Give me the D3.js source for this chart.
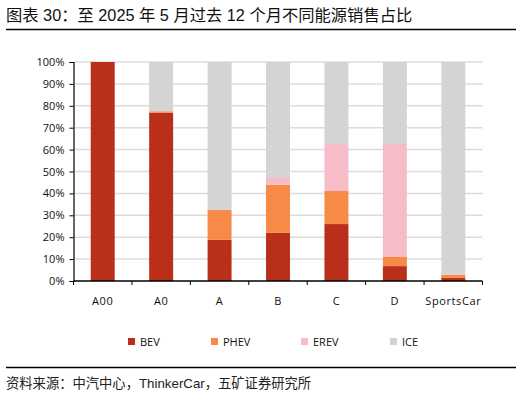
<!DOCTYPE html>
<html>
<head>
<meta charset="utf-8">
<script src="https://cdn.jsdelivr.net/npm/d3@7"></script>
<style>
  body { margin: 0; background: #fff; }
  svg { display: block; }
</style>
</head>
<body>
<div id="chart"></div>
<script>
// categories and shares (%)
var categories = ["A00", "A0", "A", "B", "C", "D", "SportsCar"];
var series = ["BEV", "PHEV", "EREV", "ICE"];
var bev  = [100, 76.8, 18.8, 22.0, 26.0, 6.8, 1.4];
var phev = [0, 0.7, 13.6, 21.9, 15.1, 4.2, 1.4];
var erev = [0, 0, 0, 3.5, 21.5, 51.6, 0];
var ice  = [0, 22.5, 67.6, 52.6, 37.4, 37.4, 97.2];
var yTicks = [0, 10, 20, 30, 40, 50, 60, 70, 80, 90, 100];
var colors = ["#b92f1a", "#f88a48", "#f6bdc8", "#d4d4d4"];

var W = 522, H = 396;
var margin = {top: 62, left: 73.5, right: 39.5, bottom: 115};
var plotW = W - margin.left - margin.right,
    plotH = H - margin.top - margin.bottom;

var svg = d3.select("#chart").append("svg")
    .attr("width", W)
    .attr("height", H);

var font = "'Open Sans', 'Liberation Sans', sans-serif";
var cjk = "'Liberation Sans', 'Noto Sans CJK SC', sans-serif";

// title + rules
svg.append("text")
    .attr("x", 6).attr("y", 21)
    .attr("font-family", cjk)
    .attr("font-size", 16.3)
    .attr("fill", "#111")
    .text("图表 30：至 2025 年 5 月过去 12 个月不同能源销售占比");

svg.append("line")
    .attr("x1", 6).attr("x2", 516)
    .attr("y1", 29.5).attr("y2", 29.5)
    .attr("stroke", "#000").attr("stroke-width", 1.5);

svg.append("line")
    .attr("x1", 6).attr("x2", 516)
    .attr("y1", 367.5).attr("y2", 367.5)
    .attr("stroke", "#000").attr("stroke-width", 1.5);

svg.append("text")
    .attr("x", 6).attr("y", 388)
    .attr("font-family", cjk)
    .attr("font-size", 13.3)
    .attr("fill", "#222")
    .text("资料来源：中汽中心，ThinkerCar，五矿证券研究所");

var g = svg.append("g")
    .attr("transform", "translate(" + margin.left + "," + margin.top + ")");

var x = d3.scaleBand().domain(categories).range([0, plotW]).paddingInner(0.59).paddingOuter(0.295);
var y = d3.scaleLinear().domain([0, 100]).range([plotH, 0]);

// gridlines
g.selectAll(".grid")
    .data(yTicks.filter(function(d) { return d > 0; }))
    .enter().append("line")
    .attr("x1", 0).attr("x2", plotW)
    .attr("y1", function(d) { return y(d); })
    .attr("y2", function(d) { return y(d); })
    .attr("stroke", "#dcdcdc")
    .attr("stroke-width", 1.5);

// stacked bars
var rows = categories.map(function(c, i) {
    return {cat: c, BEV: bev[i], PHEV: phev[i], EREV: erev[i], ICE: ice[i]};
});
var stacked = d3.stack().keys(series)(rows);

g.selectAll(".layer")
    .data(stacked)
    .enter().append("g")
    .attr("fill", function(d, i) { return colors[i]; })
    .selectAll("rect")
    .data(function(d) { return d; })
    .enter().append("rect")
    .attr("x", function(d) { return x(d.data.cat); })
    .attr("width", x.bandwidth())
    .attr("y", function(d) { return y(Math.min(d[1], 100)); })
    .attr("height", function(d) { return Math.max(0, y(d[0]) - y(Math.min(d[1], 100))); });

// y axis
var yAxis = g.append("g")
    .call(d3.axisLeft(y).tickValues(yTicks).tickSize(4).tickFormat(function(d) { return d + "%"; }));
yAxis.select(".domain").attr("stroke", "#000").attr("stroke-width", 1.2);
yAxis.selectAll(".tick line").attr("stroke", "#000");
yAxis.selectAll(".tick text")
    .attr("x", -9)
    .attr("font-family", font)
    .attr("font-size", 11)
    .attr("fill", "#111");

// x axis: ticks on band boundaries
var xAxis = g.append("g").attr("transform", "translate(0," + plotH + ")");
xAxis.append("line")
    .attr("x1", 0).attr("x2", plotW)
    .attr("stroke", "#000").attr("stroke-width", 1.5);
var step = x.step();
xAxis.selectAll(".xt")
    .data(d3.range(categories.length + 1))
    .enter().append("line")
    .attr("x1", function(i) { return i * step; })
    .attr("x2", function(i) { return i * step; })
    .attr("y1", 0).attr("y2", 4)
    .attr("stroke", "#000");
xAxis.selectAll(".xl")
    .data(categories)
    .enter().append("text")
    .attr("x", function(d) { return x(d) + x.bandwidth() / 2; })
    .attr("y", 24)
    .attr("text-anchor", "middle")
    .attr("font-family", font)
    .attr("font-size", 11)
    .attr("letter-spacing", 0.6)
    .attr("fill", "#111")
    .text(function(d) { return d; });

// legend
var legendX = [128, 211, 301, 390];
var legend = svg.append("g").selectAll("g")
    .data(series)
    .enter().append("g")
    .attr("transform", function(d, i) { return "translate(" + legendX[i] + ",338)"; });
legend.append("rect")
    .attr("width", 7).attr("height", 7)
    .attr("fill", function(d, i) { return colors[i]; });
legend.append("text")
    .attr("x", 12).attr("y", 7.5)
    .attr("font-family", font)
    .attr("font-size", 11)
    .attr("fill", "#111")
    .text(function(d) { return d; });
</script>
</body>
</html>
